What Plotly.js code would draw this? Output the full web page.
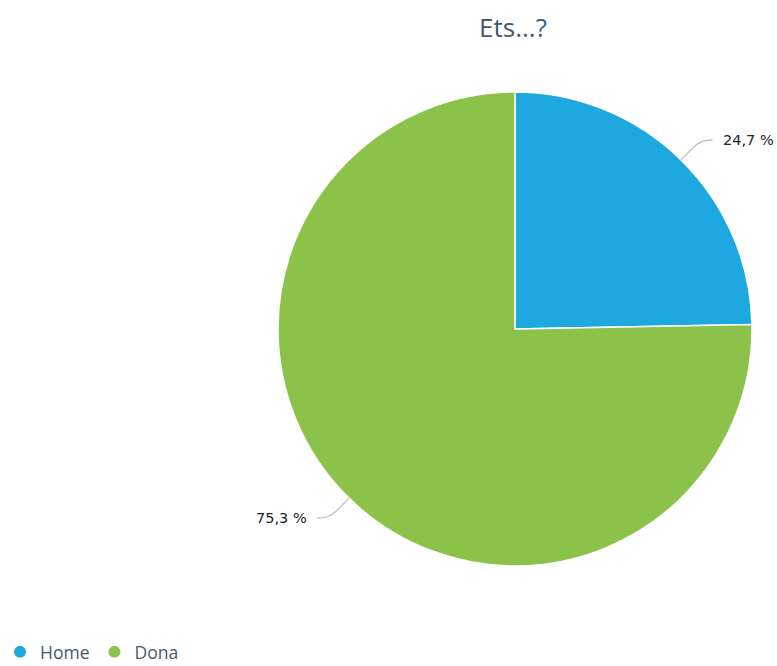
<!DOCTYPE html>
<html>
<head>
<meta charset="utf-8">
<script src="https://cdn.plot.ly/plotly-3.0.1.min.js"></script>
<style>html,body{margin:0;padding:0;background:#fff;}#chart{width:777px;height:666px;}</style>
</head>
<body>
<div id="chart"></div>
<script>
const titleText = 'Ets...?';
const categories = ['Home', 'Dona'];
const values = [24.7, 75.3];
const colors = ['#1EA8E0', '#8BC34A'];

const W = 777, H = 666;
const dom = {x: [278 / W, 752 / W], y: [1 - 566 / H, 1 - 92 / H]};
const cx = (dom.x[0] + dom.x[1]) / 2 * W;
const cy = (1 - (dom.y[0] + dom.y[1]) / 2) * H;
const r = Math.min((dom.x[1] - dom.x[0]) * W, (dom.y[1] - dom.y[0]) * H) / 2;

const total = values.reduce((a, b) => a + b, 0);
const labelText = values.map(v => v.toFixed(1).replace('.', ',') + ' %');

const px = x => x / W;
const py = y => 1 - y / H;

const shapes = [];
const annotations = [];
let cum = 0;
values.forEach((v, i) => {
  const mid = (cum + v / 2) / total * 2 * Math.PI;
  cum += v;
  const ux = Math.sin(mid), uy = -Math.cos(mid);
  const side = ux >= 0 ? 1 : -1;
  const E = [cx + r * ux, cy + r * uy];
  const B = [cx + (r + 28) * ux, cy + (r + 28) * uy];
  const P1 = [E[0] + 0.65 * (B[0] - E[0]), E[1] + 0.65 * (B[1] - E[1])];
  const End = [B[0] + side * 12, B[1]];
  shapes.push({
    type: 'path', xref: 'paper', yref: 'paper',
    path: `M ${px(E[0])} ${py(E[1])} L ${px(P1[0])} ${py(P1[1])} Q ${px(B[0])} ${py(B[1])} ${px(End[0])} ${py(End[1])}`,
    line: {color: '#BBBBBB', width: 1.2}
  });
  annotations.push({
    xref: 'paper', yref: 'paper',
    x: px(End[0] + side * 8), y: py(End[1]),
    xanchor: side > 0 ? 'left' : 'right', yanchor: 'middle',
    text: labelText[i], showarrow: false,
    font: {family: 'DejaVu Sans', size: 14.5, color: '#222222'}
  });
});

const data = [{
  type: 'pie',
  labels: categories,
  values: values,
  marker: {colors: colors, line: {color: '#FFFFFF', width: 1.5}},
  sort: false,
  direction: 'clockwise',
  rotation: 0,
  textinfo: 'none',
  hoverinfo: 'label+percent',
  showlegend: false,
  domain: dom
}];
categories.forEach((c, i) => {
  data.push({
    type: 'scatter', mode: 'markers',
    x: [null], y: [null], name: c,
    marker: {color: colors[i], size: 12, symbol: 'circle'},
    hoverinfo: 'skip', showlegend: true
  });
});

const layout = {
  width: W, height: H,
  margin: {l: 0, r: 0, t: 0, b: 0, autoexpand: false},
  paper_bgcolor: '#FFFFFF', plot_bgcolor: '#FFFFFF',
  title: {
    text: titleText, x: px(513), xanchor: 'center', xref: 'paper',
    y: py(28), yanchor: 'middle', yref: 'paper',
    font: {family: 'Open Sans', size: 26, color: '#3D5A73'}
  },
  xaxis: {visible: false},
  yaxis: {visible: false},
  showlegend: true,
  legend: {
    orientation: 'h', x: 0, xanchor: 'left', y: -0.006, yanchor: 'bottom',
    font: {family: 'Open Sans', size: 17.5, color: '#3D5A73'},
    itemwidth: 30, tracegroupgap: 0
  },
  shapes: shapes,
  annotations: annotations
};

Plotly.newPlot('chart', data, layout, {displayModeBar: false, staticPlot: true});
</script>
</body>
</html>
